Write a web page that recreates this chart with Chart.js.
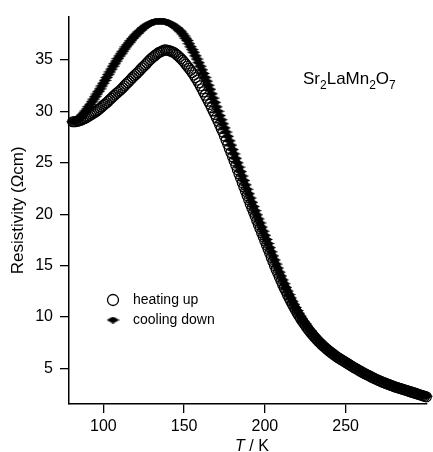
<!DOCTYPE html>
<html>
<head>
<meta charset="utf-8">
<script src="https://cdn.jsdelivr.net/npm/chart.js@4/dist/chart.umd.min.js"></script>
<style>
  html, body { margin: 0; padding: 0; background: #fff; }
  #wrap { width: 433px; height: 452px; }
</style>
</head>
<body>
<div id="wrap"><canvas id="chart" width="433" height="452"></canvas></div>
<script>
// temperature (K) shared by both sweeps
var TEMPS = [81, 82, 83, 84, 85, 86, 87, 88, 89, 90,
  91, 92, 93, 94, 95, 96, 97, 98, 99, 100,
  101, 102, 103, 104, 105, 106, 107, 108, 109, 110,
  111, 112, 113, 114, 115, 116, 117, 118, 119, 120,
  121, 122, 123, 124, 125, 126, 127, 128, 129, 130,
  131, 132, 133, 134, 135, 136, 137, 138, 139, 140,
  141, 142, 143, 144, 145, 146, 147, 148, 149, 150,
  151, 152, 153, 154, 155, 156, 157, 158, 159, 160,
  161, 162, 163, 164, 165, 166, 167, 168, 169, 170,
  171, 172, 173, 174, 175, 176, 177, 178, 179, 180,
  181, 182, 183, 184, 185, 186, 187, 188, 189, 190,
  191, 192, 193, 194, 195, 196, 197, 198, 199, 200,
  201, 202, 203, 204, 205, 206, 207, 208, 209, 210,
  211, 212, 213, 214, 215, 216, 217, 218, 219, 220,
  221, 222, 223, 224, 225, 226, 227, 228, 229, 230,
  231, 232, 233, 234, 235, 236, 237, 238, 239, 240,
  241, 242, 243, 244, 245, 246, 247, 248, 249, 250,
  251, 252, 253, 254, 255, 256, 257, 258, 259, 260,
  261, 262, 263, 264, 265, 266, 267, 268, 269, 270,
  271, 272, 273, 274, 275, 276, 277, 278, 279, 280,
  281, 282, 283, 284, 285, 286, 287, 288, 289, 290,
  291, 292, 293, 294, 295, 296, 297, 298, 299, 300];

// resistivity (Ωcm), heating up
var HEATING = [29.0, 29.0, 29.02, 29.05, 29.1, 29.15, 29.22, 29.3, 29.37, 29.45,
  29.55, 29.65, 29.75, 29.85, 29.95, 30.05, 30.18, 30.3, 30.45, 30.6,
  30.72, 30.85, 31.0, 31.15, 31.3, 31.45, 31.6, 31.75, 31.88, 32.0,
  32.15, 32.3, 32.48, 32.65, 32.8, 32.95, 33.12, 33.3, 33.45, 33.6,
  33.75, 33.9, 34.08, 34.25, 34.4, 34.55, 34.72, 34.9, 35.05, 35.2,
  35.33, 35.45, 35.58, 35.7, 35.78, 35.85, 35.93, 36.0, 35.98, 35.95,
  35.9, 35.85, 35.78, 35.7, 35.58, 35.45, 35.3, 35.15, 34.98, 34.8,
  34.6, 34.4, 34.2, 34.0, 33.78, 33.55, 33.3, 33.05, 32.78, 32.5,
  32.2, 31.9, 31.6, 31.3, 31.0, 30.7, 30.38, 30.05, 29.72, 29.4,
  29.05, 28.7, 28.35, 28.0, 27.6, 27.2, 26.8, 26.4, 26.0, 25.6,
  25.18, 24.76, 24.34, 23.92, 23.5, 23.08, 22.66, 22.24, 21.82, 21.4,
  20.98, 20.59, 20.19, 19.8, 19.4, 19.0, 18.6, 18.2, 17.8, 17.4,
  17.0, 16.6, 16.2, 15.8, 15.4, 15.0, 14.62, 14.25, 13.88, 13.52,
  13.17, 12.83, 12.5, 12.17, 11.85, 11.54, 11.24, 10.95, 10.67, 10.4,
  10.14, 9.89, 9.65, 9.42, 9.2, 8.98, 8.77, 8.57, 8.38, 8.19,
  8.01, 7.84, 7.67, 7.51, 7.36, 7.21, 7.07, 6.93, 6.8, 6.67,
  6.55, 6.43, 6.31, 6.2, 6.09, 5.99, 5.89, 5.79, 5.7, 5.6,
  5.5, 5.4, 5.3, 5.2, 5.11, 5.02, 4.93, 4.84, 4.75, 4.66,
  4.57, 4.49, 4.41, 4.33, 4.25, 4.17, 4.09, 4.01, 3.94, 3.87,
  3.8, 3.73, 3.66, 3.6, 3.54, 3.48, 3.42, 3.36, 3.3, 3.24,
  3.19, 3.14, 3.09, 3.04, 2.99, 2.94, 2.89, 2.84, 2.79, 2.74,
  2.69, 2.64, 2.59, 2.54, 2.49, 2.44, 2.39, 2.34, 2.29, 2.24];

// resistivity (Ωcm), cooling down
var COOLING = [29.0, 29.05, 29.12, 29.2, 29.35, 29.5, 29.68, 29.85, 30.05, 30.25,
  30.48, 30.7, 30.95, 31.2, 31.45, 31.7, 31.95, 32.2, 32.48, 32.75,
  33.02, 33.3, 33.58, 33.85, 34.12, 34.4, 34.65, 34.9, 35.15, 35.4,
  35.62, 35.85, 36.08, 36.3, 36.5, 36.7, 36.9, 37.1, 37.28, 37.45,
  37.6, 37.75, 37.9, 38.05, 38.18, 38.3, 38.4, 38.5, 38.58, 38.65,
  38.7, 38.75, 38.78, 38.8, 38.8, 38.8, 38.78, 38.75, 38.7, 38.65,
  38.58, 38.5, 38.4, 38.3, 38.18, 38.05, 37.9, 37.75, 37.55, 37.35,
  37.12, 36.9, 36.6, 36.3, 36.02, 35.75, 35.42, 35.1, 34.75, 34.4,
  34.05, 33.7, 33.32, 32.95, 32.55, 32.15, 31.72, 31.3, 30.88, 30.45,
  30.02, 29.6, 29.2, 28.8, 28.4, 28.0, 27.58, 27.15, 26.72, 26.3,
  25.87, 25.44, 25.01, 24.58, 24.15, 23.72, 23.29, 22.86, 22.43, 22.0,
  21.58, 21.16, 20.75, 20.35, 19.95, 19.55, 19.15, 18.75, 18.35, 17.95,
  17.55, 17.15, 16.75, 16.35, 15.95, 15.55, 15.15, 14.76, 14.37, 13.99,
  13.61, 13.24, 12.88, 12.53, 12.19, 11.86, 11.54, 11.23, 10.93, 10.64,
  10.36, 10.09, 9.83, 9.58, 9.35, 9.12, 8.9, 8.69, 8.49, 8.29,
  8.1, 7.92, 7.75, 7.58, 7.42, 7.27, 7.12, 6.98, 6.85, 6.72,
  6.6, 6.48, 6.36, 6.25, 6.14, 6.04, 5.94, 5.84, 5.74, 5.65,
  5.55, 5.45, 5.35, 5.25, 5.16, 5.07, 4.98, 4.89, 4.8, 4.71,
  4.62, 4.54, 4.46, 4.38, 4.3, 4.22, 4.14, 4.06, 3.99, 3.92,
  3.85, 3.78, 3.71, 3.65, 3.59, 3.53, 3.47, 3.41, 3.35, 3.29,
  3.24, 3.19, 3.14, 3.09, 3.04, 2.99, 2.94, 2.89, 2.84, 2.79,
  2.74, 2.69, 2.64, 2.59, 2.54, 2.49, 2.44, 2.39, 2.34, 2.29];

var SERIES_LABELS = ['heating up', 'cooling down'];
var X_TICKS = [100, 150, 200, 250];
var Y_TICKS = [5, 10, 15, 20, 25, 30, 35];

var FONT = '"Liberation Sans", Arial, Helvetica, sans-serif';

// flattened filled diamond used for the cooling sweep
var diamond = document.createElement('canvas');
diamond.width = 13; diamond.height = 7;
(function () {
  var c = diamond.getContext('2d');
  c.fillStyle = '#000';
  c.beginPath();
  c.moveTo(0, 3.5); c.lineTo(6.5, 0); c.lineTo(13, 3.5); c.lineTo(6.5, 7);
  c.closePath(); c.fill();
})();

function pts(ys) { return TEMPS.map(function (t, i) { return { x: t, y: ys[i] }; }); }

// legend inside the plot, compound name, italic x title
var annotations = {
  id: 'annotations',
  afterDraw: function (chart) {
    var ctx = chart.ctx;
    ctx.save();
    ctx.fillStyle = '#000';
    ctx.strokeStyle = '#000';

    // legend
    ctx.font = '14px ' + FONT;
    ctx.textBaseline = 'middle';
    ctx.lineWidth = 1.3;
    ctx.beginPath(); ctx.arc(113, 300, 5.5, 0, Math.PI * 2); ctx.stroke();
    ctx.fillText(chart.data.datasets[0].label, 133, 300);
    ctx.drawImage(diamond, 113 - diamond.width / 2, 320 - diamond.height / 2);
    ctx.fillText(chart.data.datasets[1].label, 133, 320);

    // Sr2LaMn2O7
    ctx.textBaseline = 'alphabetic';
    var x = 303, base = 84;
    [['Sr', 0], ['2', 1], ['LaMn', 0], ['2', 1], ['O', 0], ['7', 1]].forEach(function (p) {
      ctx.font = (p[1] ? '12px ' : '17px ') + FONT;
      ctx.fillText(p[0], x, base + (p[1] ? 5 : 0));
      x += ctx.measureText(p[0]).width;
    });

    // T / K
    ctx.font = 'italic 16px ' + FONT;
    var wT = ctx.measureText('T').width;
    ctx.font = '16px ' + FONT;
    var wR = ctx.measureText(' / K').width;
    var x0 = 252 - (wT + wR) / 2;
    ctx.font = 'italic 16px ' + FONT;
    ctx.fillText('T', x0, 451);
    ctx.font = '16px ' + FONT;
    ctx.fillText(' / K', x0 + wT, 451);
    ctx.restore();
  }
};

new Chart(document.getElementById('chart').getContext('2d'), {
  type: 'scatter',
  data: {
    datasets: [
      { label: SERIES_LABELS[0], data: pts(HEATING), pointStyle: 'circle', pointRadius: 5,
        borderColor: '#000', backgroundColor: 'rgba(0,0,0,0)', borderWidth: 1.2, order: 1 },
      { label: SERIES_LABELS[1], data: pts(COOLING), pointStyle: diamond,
        borderColor: '#000', backgroundColor: '#000', order: 2 }
    ]
  },
  options: {
    responsive: false,
    animation: false,
    events: [],
    clip: false,
    layout: { padding: { top: 12, right: 0, bottom: 0, left: 0 } },
    plugins: { legend: { display: false }, tooltip: { enabled: false } },
    scales: {
      x: {
        type: 'linear', min: 78.7, max: 300.3,
        afterBuildTicks: function (s) { s.ticks = X_TICKS.map(function (v) { return { value: v }; }); },
        afterFit: function (s) { s.height = 48; },
        grid: { drawOnChartArea: false, drawTicks: true, tickLength: 9, color: '#000', lineWidth: 1.3 },
        border: { display: true, color: '#000', width: 1.5 },
        ticks: { color: '#000', padding: 4, maxRotation: 0, font: { family: FONT, size: 16 } }
      },
      y: {
        min: 1.54, max: 39.23,
        afterBuildTicks: function (s) { s.ticks = Y_TICKS.map(function (v) { return { value: v }; }); },
        afterFit: function (s) { s.width = 69; },
        grid: { drawOnChartArea: false, drawTicks: true, tickLength: 9, color: '#000', lineWidth: 1.3 },
        border: { display: true, color: '#000', width: 1.5 },
        ticks: { color: '#000', padding: 7, font: { family: FONT, size: 16 } },
        title: { display: true, text: 'Resistivity (Ωcm)', color: '#000',
          font: { family: FONT, size: 17 }, padding: { top: 8, bottom: 0 } }
      }
    }
  },
  plugins: [annotations]
});
</script>
</body>
</html>
